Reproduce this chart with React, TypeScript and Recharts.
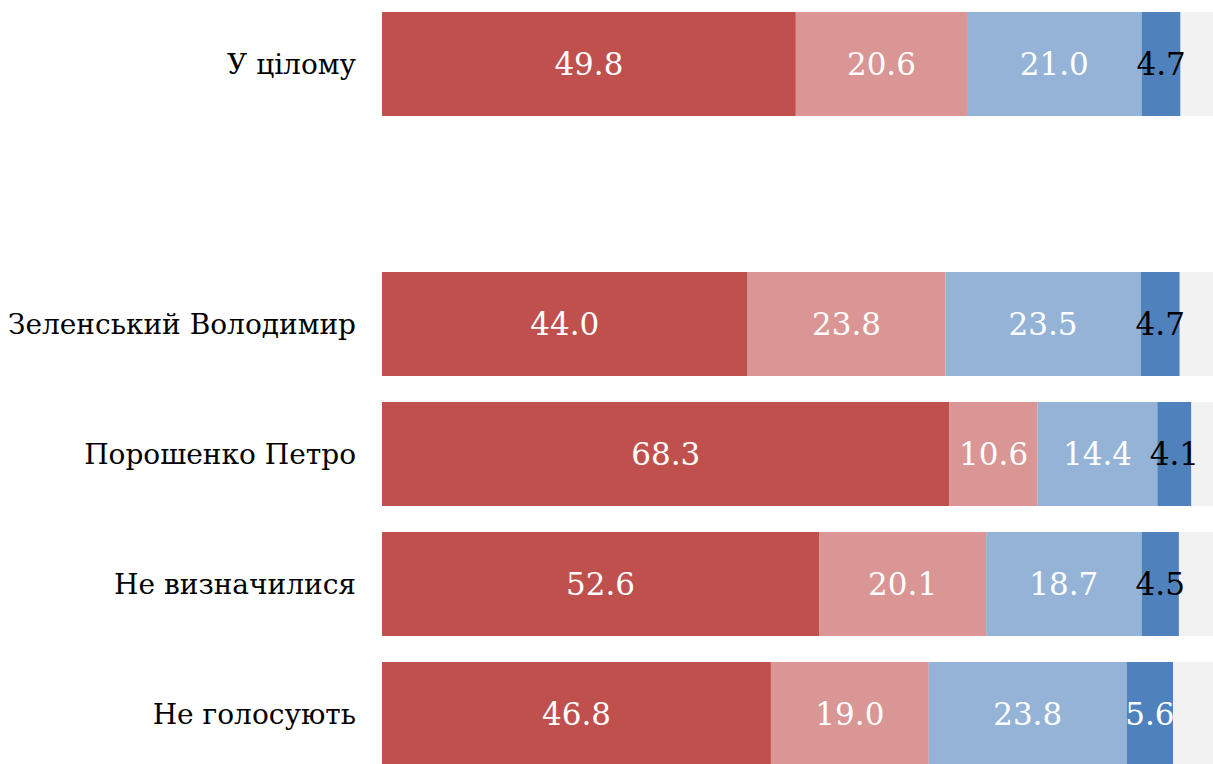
import React from 'react';
import { BarChart, Bar, XAxis, YAxis, LabelList } from 'recharts';

// Rows of the chart; the empty one is the spacer between the total and the groups
const categories = ['У цілому', '', 'Зеленський Володимир', 'Порошенко Петро', 'Не визначилися', 'Не голосують'];
const strongValues = [49.8, null, 44.0, 68.3, 52.6, 46.8];
const mildValues = [20.6, null, 23.8, 10.6, 20.1, 19.0];
const softValues = [21.0, null, 23.5, 14.4, 18.7, 23.8];
const lowValues = [4.7, null, 4.7, 4.1, 4.5, 5.6];

const FONT = '"DejaVu Serif", serif';

const data = categories.map((name, i) => {
  const vals = [strongValues[i], mildValues[i], softValues[i], lowValues[i]];
  const hasData = vals.every(v => v !== null);
  const total = vals.reduce<number>((s, v) => s + (v ?? 0), 0);
  return {
    name,
    strong: strongValues[i],
    mild: mildValues[i],
    soft: softValues[i],
    low: lowValues[i],
    rest: hasData ? Math.max(0, 100 - total) : null,
  };
});

const makeLabel = (darkSmall: boolean) => (props: any) => {
  const { x, y, width, height, value } = props;
  if (value === null || value === undefined) return null;
  const fill = darkSmall && value < 5 ? '#000000' : '#ffffff';
  return (
    <text
      x={x + width / 2}
      y={y + height / 2}
      textAnchor="middle"
      dominantBaseline="central"
      fill={fill}
      fontFamily={FONT}
      fontSize={31}
    >
      {Number(value).toFixed(1)}
    </text>
  );
};

export default function App() {
  return (
    <div style={{ position: 'fixed', left: 0, top: 0, width: 1213, height: 764, overflow: 'hidden', background: '#fff' }}>
      <div style={{ position: 'absolute', left: 0, top: -1 }}>
        <BarChart
          width={1213}
          height={780}
          data={data}
          layout="vertical"
          margin={{ top: 0, right: 0, bottom: 0, left: 0 }}
          barCategoryGap="10%"
        >
          <XAxis type="number" domain={[0, 100]} hide />
          <YAxis
            type="category"
            dataKey="name"
            width={382}
            axisLine={false}
            tickLine={false}
            tickSize={0}
            tickMargin={26}
            tick={{ fill: '#000', fontFamily: FONT, fontSize: 28 }}
          />
          <Bar dataKey="strong" stackId="a" fill="#c0504d" isAnimationActive={false}>
            <LabelList dataKey="strong" content={makeLabel(false)} />
          </Bar>
          <Bar dataKey="mild" stackId="a" fill="#d99694" isAnimationActive={false}>
            <LabelList dataKey="mild" content={makeLabel(false)} />
          </Bar>
          <Bar dataKey="soft" stackId="a" fill="#95b3d7" isAnimationActive={false}>
            <LabelList dataKey="soft" content={makeLabel(false)} />
          </Bar>
          <Bar dataKey="low" stackId="a" fill="#4f81bd" isAnimationActive={false}>
            <LabelList dataKey="low" content={makeLabel(true)} />
          </Bar>
          <Bar dataKey="rest" stackId="a" fill="#f2f2f2" isAnimationActive={false} />
        </BarChart>
      </div>
    </div>
  );
}
